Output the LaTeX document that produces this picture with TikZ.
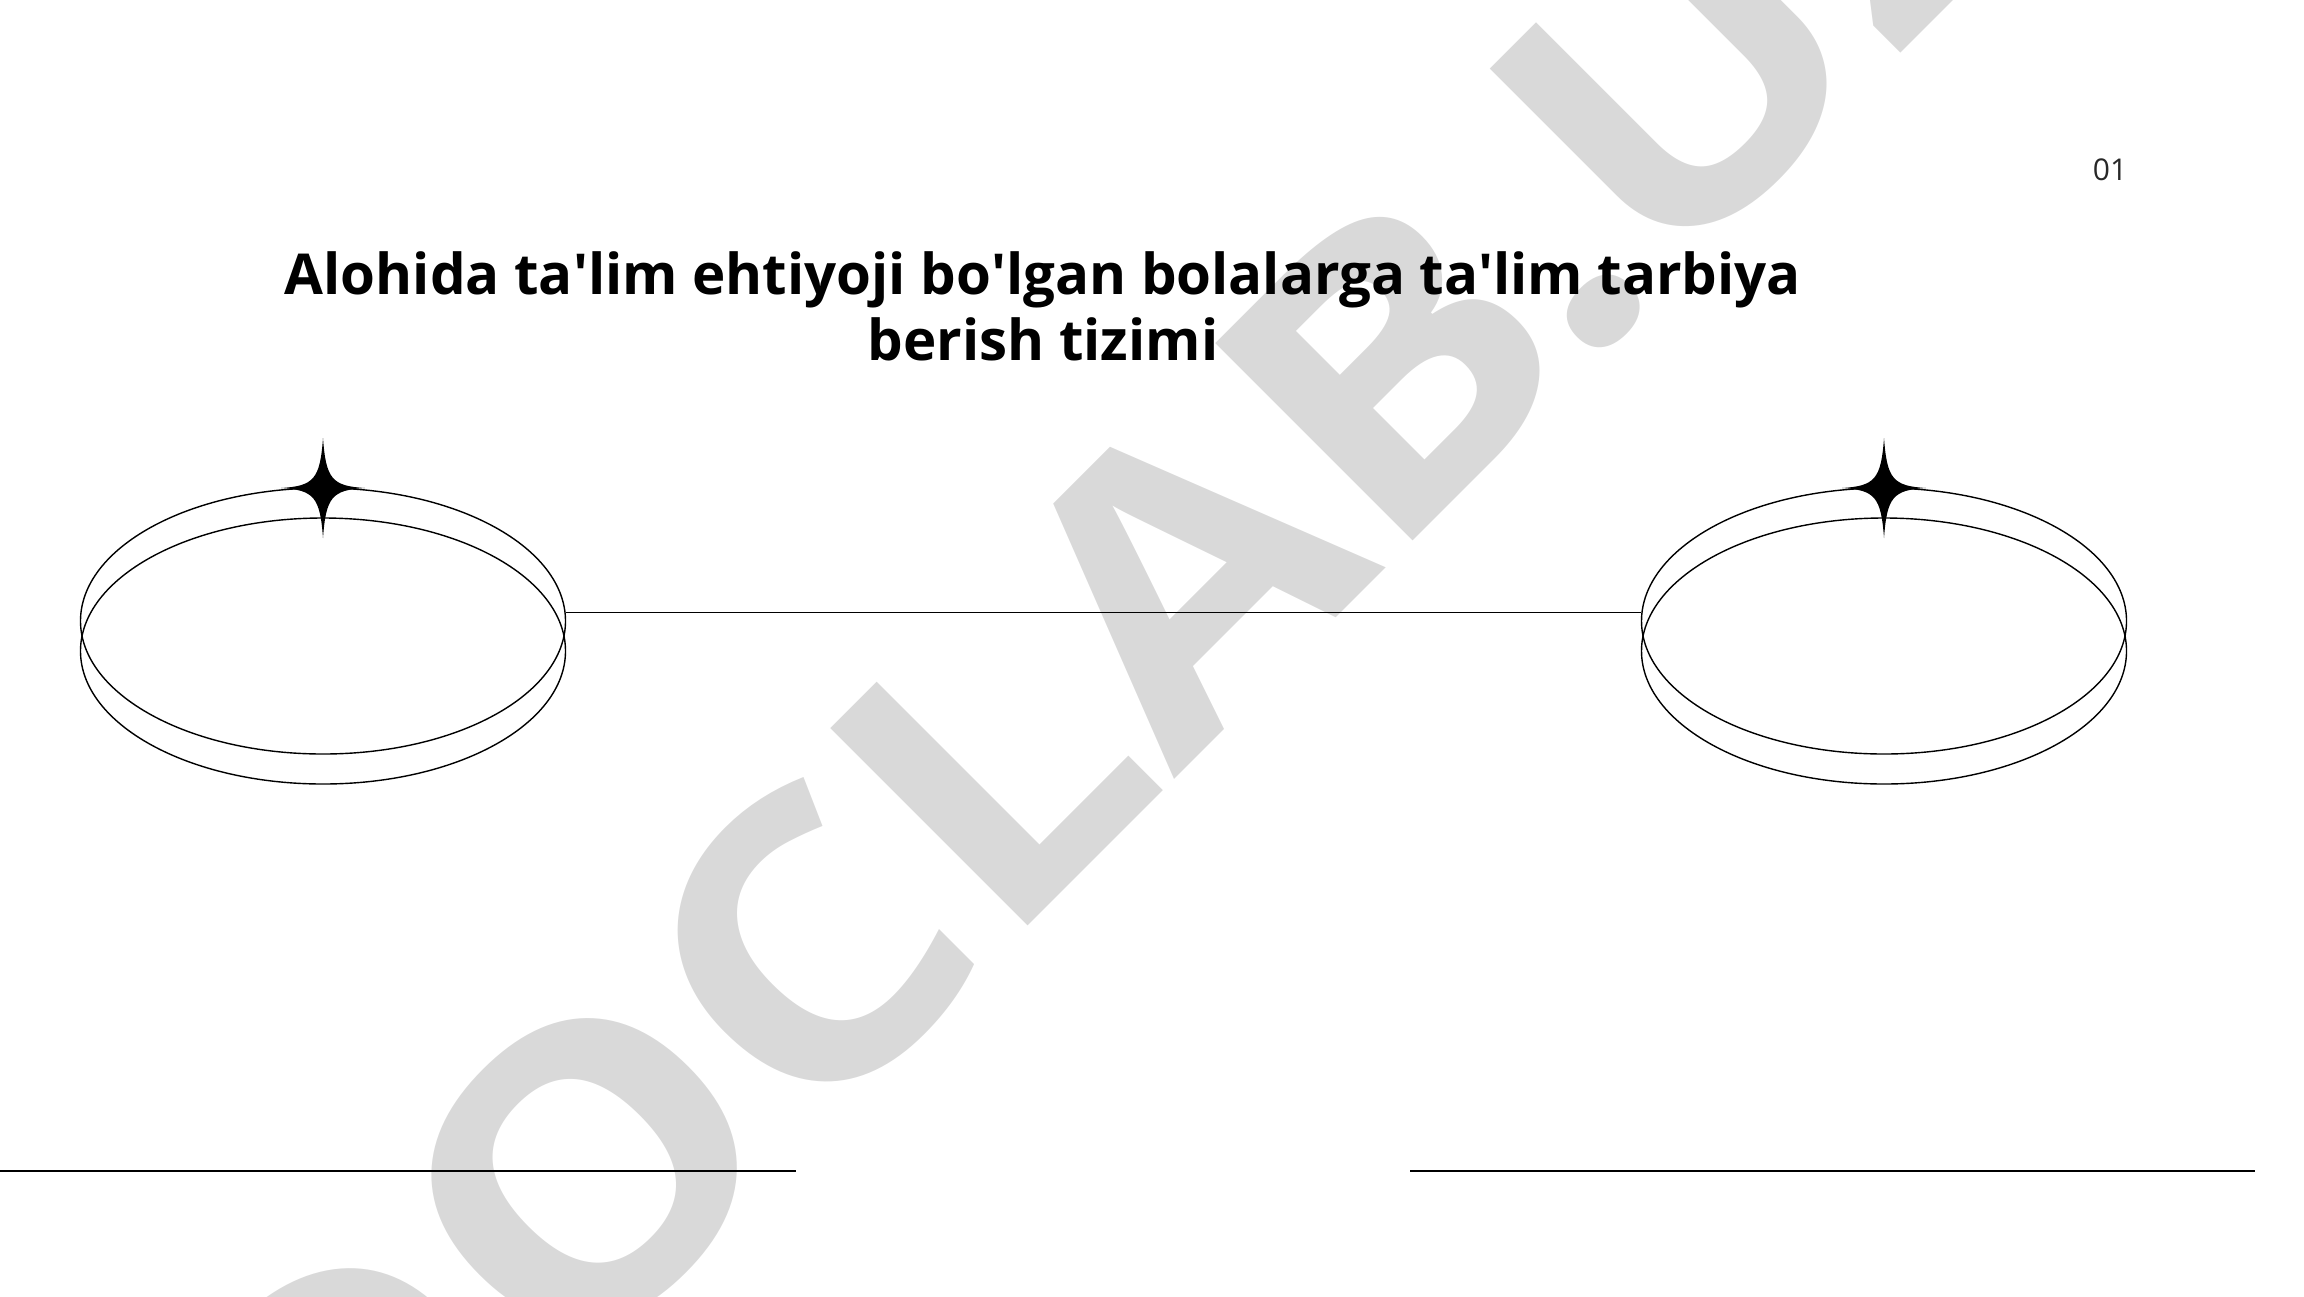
\documentclass[tikz,border=0pt]{standalone}
\usepackage{fontspec}
\setmainfont{Open Sans}
\usetikzlibrary{shapes.geometric}
\definecolor{markgray}{RGB}{217,217,217}
\definecolor{numgray}{RGB}{40,40,40}

\tikzset{
  ring/.style={draw, ellipse, line width=1.4pt, minimum width=485pt, minimum height=266pt, inner sep=0pt},
  sparkle/.pic={
    \fill (0,-50) .. controls (3,-9) and (9,-2) .. (42,0)
      .. controls (9,2) and (3,9) .. (0,50)
      .. controls (-3,9) and (-9,2) .. (-42,0)
      .. controls (-9,-2) and (-3,-9) .. (0,-50) -- cycle;
  }
}

\begin{document}
\begin{tikzpicture}[x=1pt,y=-1pt]
\useasboundingbox (0,0) rectangle (2304,1296);
\clip (0,0) rectangle (2304,1296);

% watermark behind everything
\node[markgray, rotate=45, xscale=1.11, inner sep=0pt, anchor=base] (mark) at (1202.5,751.5)
  {\fontsize{391}{391}\selectfont\bfseries DOCLAB.UZ};

% page number and title
\node[numgray, inner sep=0pt] (pagenum) at (2110,170) {\fontsize{30}{30}\selectfont 01};
\node[anchor=north, align=center, inner sep=0pt, font={\fontsize{56.4}{66}\selectfont\bfseries}] (title) at (1043,251)
  {Alohida ta\textquotesingle lim ehtiyoji bo\textquotesingle lgan bolalarga ta\textquotesingle lim tarbiya\\berish tizimi};

% left pair of rings
\node[ring] (lring1) at (323,621) {};
\node[ring] (lring2) at (323,651) {};
\pic at (323,488) {sparkle};

% right pair of rings
\node[ring] (rring1) at (1884,621) {};
\node[ring] (rring2) at (1884,651) {};
\pic at (1884,488) {sparkle};

% link between the rings
\draw[line width=1.5pt] (lring1.2) -- (rring1.178);

% bottom rules
\coordinate (lrule1) at (0,1171);
\coordinate (lrule2) at (796,1171);
\coordinate (rrule1) at (1410,1171);
\coordinate (rrule2) at (2255,1171);
\draw[line width=2pt] (lrule1) -- (lrule2);
\draw[line width=2pt] (rrule1) -- (rrule2);
\end{tikzpicture}
\end{document}
